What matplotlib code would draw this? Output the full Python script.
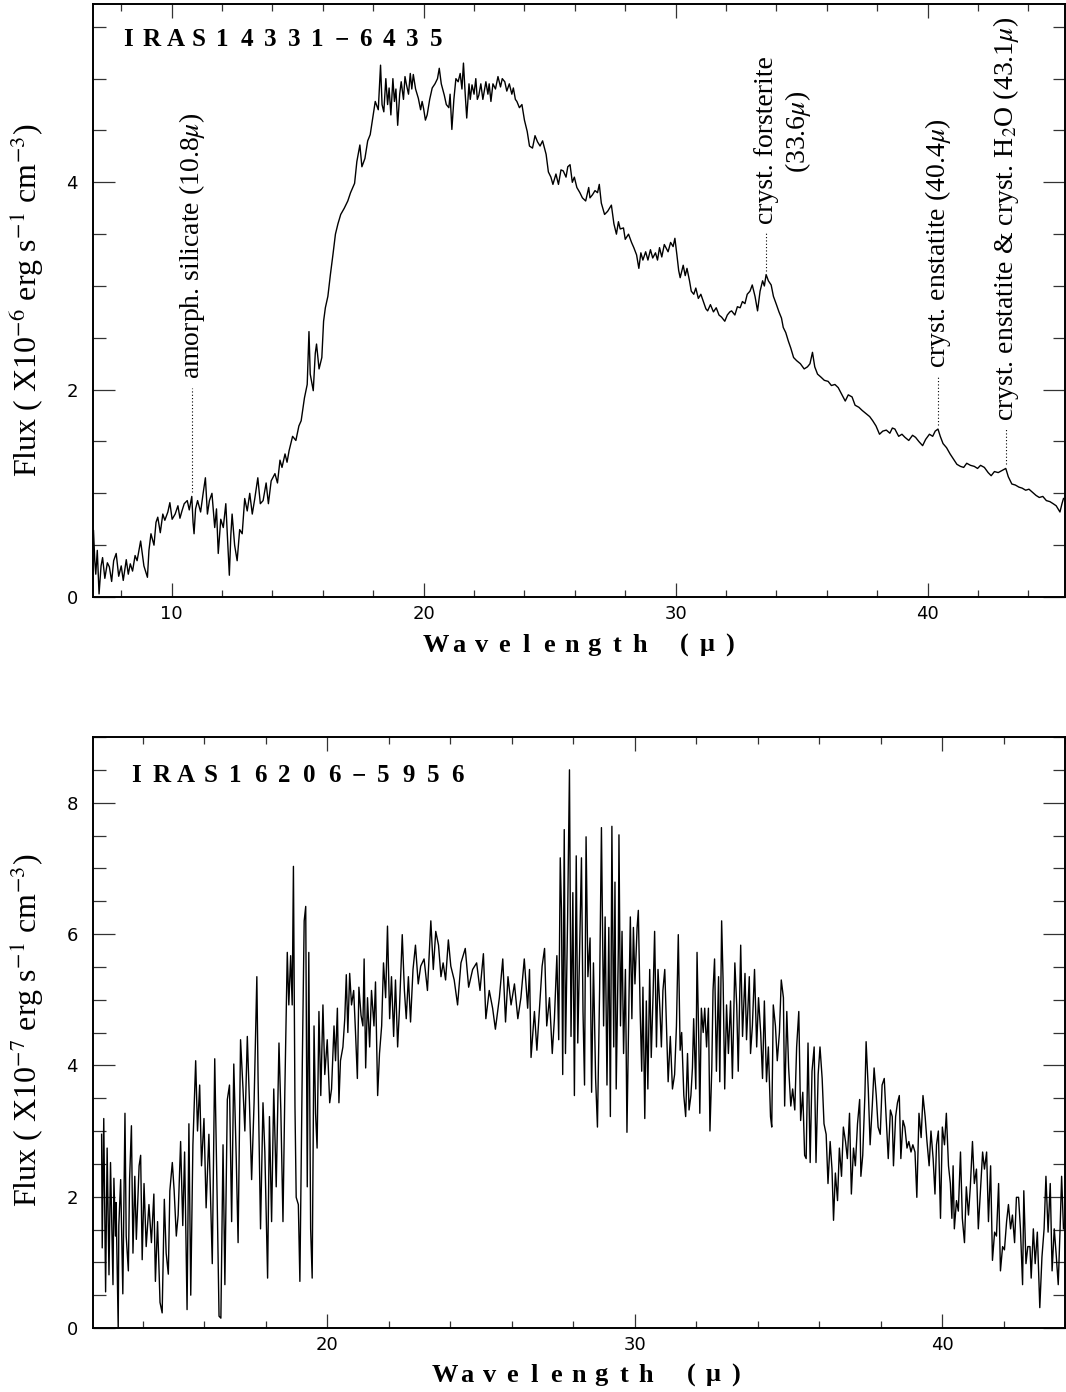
"""Two ISO-SWS style spectra (IRAS14331-6435 and IRAS16206-5956), PGPLOT look."""

import matplotlib
matplotlib.use("Agg")
import matplotlib.pyplot as plt
import numpy as np
from matplotlib.ticker import MultipleLocator

plt.rcParams["mathtext.fontset"] = "stix"

SERIF = "Liberation Serif"
SANS = "DejaVu Sans"

# ---- IRAS14331-6435 (flux in 1e-6 erg s-1 cm-3) ----
wl_14331 = [
    6.90, 6.95, 6.99, 7.05, 7.12, 7.20, 7.26, 7.35, 7.45, 7.53, 7.62, 7.70, 7.80, 7.90, 8.00, 8.08,
    8.20, 8.28, 8.36, 8.45, 8.55, 8.63, 8.77, 8.90, 9.04, 9.10, 9.18, 9.30, 9.38, 9.45, 9.55, 9.65,
    9.73, 9.85, 9.93, 10.02, 10.14, 10.25, 10.33, 10.41, 10.50, 10.62, 10.70, 10.80, 10.85, 10.89,
    10.95, 11.03, 11.15, 11.25, 11.34, 11.42, 11.50, 11.60, 11.71, 11.78, 11.85, 11.95, 12.05, 12.15,
    12.22, 12.29, 12.35, 12.40, 12.50, 12.60, 12.70, 12.80, 12.90, 13.00, 13.10, 13.20, 13.30, 13.42,
    13.52, 13.63, 13.75, 13.84, 13.95, 14.10, 14.20, 14.30, 14.38, 14.50, 14.58, 14.66, 14.80, 14.93,
    15.05, 15.14, 15.27, 15.38, 15.45, 15.50, 15.62, 15.70, 15.75, 15.85, 15.96, 16.03, 16.10, 16.20,
    16.30, 16.40, 16.50, 16.60, 16.71, 16.85, 16.99, 17.10, 17.26, 17.35, 17.47, 17.55, 17.67, 17.78,
    17.88, 18.00, 18.08, 18.20, 18.29, 18.35, 18.42, 18.50, 18.57, 18.63, 18.70, 18.78, 18.84, 18.90,
    18.97, 19.05, 19.11, 19.20, 19.26, 19.32, 19.40, 19.47, 19.53, 19.59, 19.68, 19.79, 19.88, 19.94,
    20.00, 20.07, 20.14, 20.24, 20.34, 20.45, 20.55, 20.62, 20.70, 20.82, 20.90, 21.00, 21.05, 21.12,
    21.20, 21.28, 21.37, 21.45, 21.52, 21.58, 21.65, 21.71, 21.80, 21.85, 21.92, 22.00, 22.07, 22.13,
    22.19, 22.27, 22.35, 22.47, 22.55, 22.60, 22.67, 22.75, 22.85, 22.95, 23.05, 23.12, 23.22, 23.30,
    23.40, 23.50, 23.56, 23.64, 23.70, 23.80, 23.90, 24.00, 24.11, 24.20, 24.32, 24.42, 24.52, 24.62,
    24.72, 24.86, 24.95, 25.05, 25.13, 25.25, 25.35, 25.45, 25.54, 25.65, 25.72, 25.81, 25.90, 25.98,
    26.08, 26.20, 26.30, 26.43, 26.55, 26.60, 26.70, 26.80, 26.90, 26.97, 27.05, 27.18, 27.30, 27.45,
    27.55, 27.65, 27.73, 27.80, 27.93, 28.00, 28.13, 28.25, 28.34, 28.45, 28.54, 28.62, 28.70, 28.81,
    28.90, 29.00, 29.09, 29.20, 29.28, 29.36, 29.45, 29.55, 29.70, 29.80, 29.90, 29.97, 30.05, 30.12,
    30.18, 30.30, 30.38, 30.45, 30.55, 30.62, 30.72, 30.80, 30.90, 31.00, 31.10, 31.20, 31.27, 31.38,
    31.50, 31.61, 31.72, 31.82, 31.95, 32.05, 32.15, 32.22, 32.35, 32.45, 32.56, 32.65, 32.75, 32.84,
    32.95, 33.04, 33.15, 33.25, 33.35, 33.45, 33.52, 33.59, 33.68, 33.79, 33.88, 34.00, 34.10, 34.20,
    34.27, 34.37, 34.47, 34.57, 34.68, 34.80, 34.95, 35.10, 35.23, 35.33, 35.43, 35.52, 35.63, 35.77,
    35.90, 36.05, 36.18, 36.32, 36.45, 36.60, 36.73, 36.85, 37.00, 37.12, 37.27, 37.40, 37.55, 37.70,
    37.82, 37.95, 38.09, 38.22, 38.36, 38.50, 38.60, 38.70, 38.85, 38.98, 39.10, 39.25, 39.40, 39.52,
    39.65, 39.80, 39.92, 40.07, 40.20, 40.30, 40.41, 40.50, 40.61, 40.75, 40.89, 41.00, 41.16, 41.30,
    41.43, 41.55, 41.70, 41.85, 41.98, 42.10, 42.25, 42.40, 42.52, 42.65, 42.80, 42.95, 43.10, 43.20,
    43.34, 43.48, 43.62, 43.75, 43.89, 44.02, 44.16, 44.30, 44.43, 44.57, 44.71, 44.85, 44.98, 45.10,
    45.25, 45.33, 45.39,
]
flux_14331 = [
    0.64, 0.35, 0.22, 0.45, 0.03, 0.30, 0.38, 0.18, 0.33, 0.29, 0.15, 0.35, 0.42, 0.20, 0.30, 0.16,
    0.36, 0.22, 0.32, 0.25, 0.40, 0.35, 0.54, 0.30, 0.19, 0.45, 0.61, 0.50, 0.72, 0.77, 0.62, 0.80,
    0.74, 0.82, 0.91, 0.75, 0.80, 0.88, 0.76, 0.83, 0.90, 0.93, 0.84, 0.97, 0.72, 0.61,
    0.85, 0.93, 0.82, 1.00, 1.15, 0.80, 0.93, 1.00, 0.67, 0.85, 0.42, 0.75, 0.67, 0.90,
    0.55, 0.21, 0.60, 0.80, 0.50, 0.35, 0.65, 0.61, 0.95, 0.83, 1.00, 0.80, 0.95, 1.15,
    0.90, 0.93, 1.10, 0.90, 1.12, 1.19, 1.10, 1.32, 1.25, 1.38, 1.30, 1.41, 1.55, 1.51,
    1.65, 1.70, 1.92, 2.05, 2.56, 2.15, 1.99, 2.35, 2.44, 2.20, 2.31, 2.66, 2.79, 2.90,
    3.11, 3.30, 3.50, 3.60, 3.69, 3.75, 3.82, 3.90, 3.99, 4.20, 4.36, 4.15, 4.23, 4.40,
    4.46, 4.65, 4.78, 4.70, 5.13, 4.75, 4.68, 5.00, 4.75, 4.91, 4.65, 5.00, 4.78, 4.90,
    4.55, 4.85, 4.97, 4.80, 5.02, 4.94, 4.85, 5.05, 4.90, 5.04, 4.90, 4.81, 4.70, 4.78,
    4.71, 4.60, 4.65, 4.80, 4.91, 4.95, 5.00, 5.10, 4.95, 4.84, 4.75, 4.72, 4.85, 4.51,
    4.80, 5.00, 4.97, 5.05, 4.90, 5.15, 4.85, 4.62, 4.95, 4.80, 4.94, 4.85, 5.00, 4.80,
    4.84, 4.95, 4.80, 4.97, 4.85, 4.95, 4.78, 4.95, 4.90, 5.02, 4.92, 5.00, 4.97, 4.88,
    4.95, 4.85, 4.91, 4.80, 4.78, 4.72, 4.75, 4.60, 4.49, 4.35, 4.33, 4.45, 4.39, 4.35,
    4.40, 4.27, 4.10, 4.05, 3.98, 4.08, 3.98, 4.12, 4.11, 4.05, 4.15, 4.17, 4.00, 4.05,
    3.95, 3.90, 3.85, 3.82, 3.95, 3.85, 3.88, 3.92, 3.90, 3.98, 3.80, 3.69, 3.72, 3.78,
    3.60, 3.50, 3.62, 3.55, 3.56, 3.45, 3.50, 3.42, 3.37, 3.30, 3.17, 3.32, 3.25, 3.33,
    3.25, 3.35, 3.27, 3.32, 3.25, 3.37, 3.28, 3.40, 3.33, 3.42, 3.38, 3.46, 3.30, 3.15,
    3.08, 3.20, 3.10, 3.17, 3.05, 2.95, 2.92, 2.98, 2.88, 2.92, 2.85, 2.78, 2.76, 2.82,
    2.75, 2.79, 2.72, 2.70, 2.66, 2.72, 2.75, 2.76, 2.72, 2.80, 2.79, 2.85, 2.83, 2.92,
    2.95, 3.01, 2.90, 2.76, 2.95, 3.05, 3.00, 3.11, 3.05, 3.01, 2.90, 2.82, 2.75, 2.69,
    2.60, 2.55, 2.47, 2.40, 2.31, 2.28, 2.25, 2.20, 2.22, 2.25, 2.36, 2.22, 2.15, 2.12,
    2.09, 2.08, 2.04, 2.05, 2.02, 1.95, 1.89, 1.95, 1.93, 1.85, 1.83, 1.80, 1.77, 1.74,
    1.70, 1.65, 1.57, 1.60, 1.61, 1.58, 1.63, 1.62, 1.55, 1.57, 1.54, 1.51, 1.56, 1.54,
    1.50, 1.46, 1.52, 1.57, 1.55, 1.60, 1.62, 1.55, 1.48, 1.44, 1.38, 1.34, 1.28, 1.26,
    1.25, 1.29, 1.27, 1.26, 1.24, 1.27, 1.25, 1.20, 1.17, 1.21, 1.20, 1.22, 1.24, 1.16,
    1.09, 1.08, 1.06, 1.05, 1.03, 1.04, 1.01, 0.98, 0.96, 0.97, 0.93, 0.92, 0.90, 0.88,
    0.82, 0.90, 0.95,
]

# ---- IRAS16206-5956 (flux in 1e-7 erg s-1 cm-3) ----
wl_16206 = [
    12.66, 12.68, 12.73, 12.79, 12.84, 12.90, 12.95, 13.03, 13.06, 13.11, 13.13, 13.20, 13.22, 13.28,
    13.35, 13.42, 13.46, 13.53, 13.57, 13.63, 13.68, 13.74, 13.79, 13.88, 13.93, 13.98, 14.04, 14.11,
    14.20, 14.28, 14.36, 14.41, 14.48, 14.56, 14.63, 14.70, 14.76, 14.83, 14.88, 14.96, 15.02, 15.09,
    15.15, 15.23, 15.30, 15.36, 15.44, 15.50, 15.56, 15.63, 15.72, 15.78, 15.85, 15.91, 15.99, 16.06,
    16.15, 16.26, 16.34, 16.42, 16.48, 16.54, 16.61, 16.67, 16.75, 16.82, 16.89, 16.96, 17.04, 17.10,
    17.18, 17.26, 17.32, 17.40, 17.47, 17.54, 17.62, 17.67, 17.71, 17.75, 17.83, 17.91, 17.97, 18.06,
    18.12, 18.19, 18.26, 18.34, 18.43, 18.49, 18.56, 18.62, 18.70, 18.75, 18.81, 18.86, 18.90, 18.95,
    18.99, 19.06, 19.11, 19.19, 19.25, 19.30, 19.35, 19.40, 19.46, 19.51, 19.57, 19.62, 19.67, 19.73,
    19.79, 19.86, 19.92, 20.00, 20.08, 20.14, 20.22, 20.27, 20.33, 20.38, 20.43, 20.51, 20.57, 20.62,
    20.67, 20.73, 20.79, 20.86, 20.92, 20.98, 21.03, 21.10, 21.16, 21.20, 21.25, 21.31, 21.38, 21.44,
    21.52, 21.57, 21.64, 21.70, 21.77, 21.83, 21.90, 21.96, 22.03, 22.09, 22.16, 22.22, 22.29, 22.35,
    22.44, 22.51, 22.57, 22.64, 22.71, 22.79, 22.87, 22.96, 23.04, 23.15, 23.26, 23.37, 23.45, 23.53,
    23.62, 23.70, 23.77, 23.85, 23.94, 24.02, 24.13, 24.24, 24.35, 24.49, 24.60, 24.73, 24.86, 24.97,
    25.08, 25.16, 25.27, 25.38, 25.47, 25.60, 25.71, 25.80, 25.88, 25.98, 26.09, 26.20, 26.30, 26.41,
    26.52, 26.58, 26.63, 26.74, 26.82, 26.90, 26.99, 27.07, 27.14, 27.23, 27.32, 27.39, 27.47, 27.53,
    27.58, 27.62, 27.66, 27.71, 27.75, 27.82, 27.88, 27.93, 27.99, 28.04, 28.10, 28.15, 28.21, 28.27,
    28.32, 28.37, 28.42, 28.48, 28.55, 28.60, 28.66, 28.73, 28.79, 28.86, 28.92, 28.99, 29.04, 29.10,
    29.16, 29.21, 29.26, 29.32, 29.36, 29.40, 29.47, 29.49, 29.54, 29.59, 29.64, 29.70, 29.75, 29.82,
    29.86, 29.91, 29.96, 30.01, 30.08, 30.12, 30.18, 30.23, 30.27, 30.33, 30.38, 30.43, 30.49, 30.54,
    30.60, 30.65, 30.71, 30.76, 30.82, 30.87, 30.92, 30.98, 31.03, 31.09, 31.16, 31.23, 31.30, 31.36,
    31.42, 31.48, 31.53, 31.60, 31.66, 31.72, 31.77, 31.83, 31.88, 31.92, 31.99, 32.03, 32.09, 32.12,
    32.17, 32.23, 32.28, 32.34, 32.40, 32.45, 32.51, 32.55, 32.60, 32.66, 32.73, 32.77, 32.83, 32.88,
    32.93, 32.99, 33.05, 33.12, 33.18, 33.26, 33.32, 33.37, 33.45, 33.51, 33.59, 33.64, 33.73, 33.77,
    33.83, 33.90, 33.97, 34.03, 34.10, 34.16, 34.22, 34.29, 34.35, 34.42, 34.46, 34.51, 34.58, 34.64,
    34.71, 34.77, 34.84, 34.88, 34.95, 35.01, 35.08, 35.14, 35.21, 35.27, 35.34, 35.40, 35.47, 35.53,
    35.58, 35.64, 35.71, 35.77, 35.84, 35.90, 35.97, 36.03, 36.10, 36.16, 36.23, 36.29, 36.36, 36.42,
    36.47, 36.53, 36.60, 36.66, 36.73, 36.79, 36.86, 36.92, 36.99, 37.05, 37.12, 37.18, 37.25, 37.32,
    37.36, 37.42, 37.49, 37.53, 37.60, 37.66, 37.73, 37.79, 37.86, 37.92, 37.99, 38.05, 38.12, 38.18,
    38.25, 38.32, 38.38, 38.42, 38.49, 38.55, 38.61, 38.66, 38.73, 38.79, 38.86, 38.92, 38.99, 39.05,
    39.12, 39.18, 39.25, 39.32, 39.38, 39.45, 39.51, 39.58, 39.64, 39.71, 39.77, 39.82, 39.88, 39.95,
    40.01, 40.08, 40.14, 40.21, 40.27, 40.32, 40.36, 40.40, 40.47, 40.53, 40.60, 40.66, 40.73, 40.79,
    40.86, 40.92, 40.99, 41.05, 41.12, 41.18, 41.25, 41.32, 41.38, 41.45, 41.51, 41.58, 41.64, 41.71,
    41.77, 41.84, 41.90, 41.97, 42.03, 42.10, 42.16, 42.23, 42.29, 42.36, 42.42, 42.49, 42.55, 42.62,
    42.66, 42.73, 42.79, 42.86, 42.90, 42.97, 43.03, 43.10, 43.18, 43.25, 43.32, 43.38, 43.45, 43.52,
    43.58, 43.65, 43.71, 43.78, 43.84, 43.89, 43.95,
]
flux_16206 = [
    2.95, 1.22, 3.19, 0.55, 2.74, 0.81, 2.52, 0.66, 2.28, 1.40, 1.91, 0.00, 1.56, 2.26,
    0.52, 3.27, 1.40, 0.87, 2.26, 3.08, 1.14, 2.31, 1.35, 2.47, 2.63, 1.04, 2.20, 1.24,
    1.88, 1.30, 2.04, 0.71, 1.62, 0.39, 0.23, 1.96, 1.14, 0.82, 2.09, 2.52, 2.09, 1.40,
    1.72, 2.84, 1.56, 2.68, 0.28, 3.11, 0.50, 2.79, 4.07, 3.00, 3.70, 2.47, 3.19, 1.83,
    2.95, 0.98, 4.10, 1.94, 0.18, 0.15, 2.79, 0.66, 3.48, 3.70, 1.62, 4.02, 2.58, 1.30,
    4.39, 3.64, 3.00, 4.44, 3.43, 2.26, 3.43, 4.50, 5.35, 3.80, 1.51, 3.43, 2.68, 0.76,
    3.22, 1.62, 3.64, 2.15, 4.34, 3.32, 1.62, 3.59, 5.72, 4.92, 5.67, 4.92, 7.03, 3.38,
    1.99, 1.88, 0.71, 4.07, 6.20, 6.42, 2.15, 5.72, 1.51, 0.76, 4.60, 3.27, 2.74, 4.82,
    3.54, 4.92, 3.86, 4.39, 3.43, 3.64, 4.60, 4.07, 4.87, 3.43, 4.07, 4.28, 4.71, 5.38,
    4.50, 5.40, 4.92, 5.14, 4.50, 3.80, 5.19, 4.76, 4.60, 5.62, 3.96, 5.03, 4.28, 5.14,
    4.60, 5.27, 3.54, 4.18, 4.60, 5.56, 5.03, 6.12, 4.71, 5.35, 4.44, 5.30, 4.28, 4.87,
    5.99, 5.14, 4.71, 5.35, 4.66, 5.46, 5.83, 5.24, 5.51, 5.62, 5.14, 6.20, 5.46, 6.04,
    5.83, 5.35, 5.56, 5.30, 5.91, 5.51, 5.30, 4.92, 5.56, 5.78, 5.19, 5.46, 5.56, 5.14,
    5.70, 4.71, 5.14, 4.87, 4.55, 5.03, 5.62, 4.66, 5.35, 4.92, 5.24, 4.71, 5.03, 5.62,
    4.87, 5.46, 4.12, 4.82, 4.23, 4.82, 5.51, 5.78, 4.60, 5.03, 4.18, 4.71, 5.67, 4.39,
    7.16, 6.36, 3.86, 7.59, 4.18, 6.26, 8.50, 4.44, 6.63, 3.54, 7.19, 4.34, 5.78, 7.16,
    4.82, 3.70, 7.48, 5.35, 5.94, 3.59, 5.56, 3.80, 3.06, 5.14, 7.62, 4.60, 6.26, 3.70,
    6.10, 3.22, 7.64, 4.28, 6.79, 3.64, 5.78, 7.51, 4.60, 6.04, 4.18, 5.46, 2.98, 5.14,
    6.26, 4.71, 6.10, 5.24, 6.10, 6.36, 4.82, 3.91, 5.19, 3.19, 4.98, 3.64, 5.46, 4.12,
    5.08, 6.04, 4.28, 5.46, 4.87, 4.28, 5.14, 5.46, 4.66, 3.75, 4.44, 3.64, 3.86, 4.60,
    5.99, 4.23, 4.50, 3.54, 3.22, 4.18, 3.32, 3.54, 3.96, 4.71, 3.64, 5.72, 4.28, 3.27,
    4.87, 4.50, 4.87, 4.28, 4.87, 3.00, 3.96, 5.14, 5.62, 3.91, 5.35, 3.75, 6.20, 5.24,
    3.64, 4.92, 4.18, 4.98, 3.80, 5.56, 4.92, 3.91, 5.83, 4.44, 5.40, 4.39, 5.35, 4.18,
    4.60, 5.46, 4.28, 5.03, 4.50, 3.80, 4.98, 3.75, 4.28, 3.22, 3.06, 4.92, 4.60, 4.07,
    4.50, 5.30, 5.03, 3.38, 4.82, 3.96, 3.38, 3.64, 3.32, 4.28, 4.82, 3.16, 3.59, 2.63,
    2.58, 4.34, 2.52, 3.91, 4.28, 2.52, 3.86, 4.28, 3.80, 3.11, 2.95, 2.20, 2.84, 2.42,
    1.64, 2.36, 1.94, 2.74, 2.31, 3.06, 2.84, 2.58, 3.27, 2.04, 2.74, 2.47, 3.11, 3.48,
    2.31, 2.63, 3.54, 4.36, 3.64, 2.79, 3.38, 3.96, 3.54, 3.06, 2.95, 3.70, 3.80, 3.22,
    2.58, 3.32, 3.22, 2.47, 3.22, 3.43, 3.54, 2.58, 3.16, 3.06, 2.74, 2.84, 2.68, 2.79,
    2.68, 1.99, 3.27, 2.90, 3.54, 3.22, 2.84, 2.47, 3.00, 2.58, 2.04, 2.79, 3.00, 1.67,
    3.06, 2.79, 3.27, 2.47, 2.20, 1.67, 2.47, 1.51, 1.94, 1.78, 2.68, 1.67, 1.30, 2.15,
    1.72, 2.15, 2.84, 2.20, 2.42, 1.51, 2.09, 2.68, 2.42, 2.68, 1.62, 2.47, 1.03, 1.46,
    1.40, 2.20, 0.87, 1.24, 1.19, 1.62, 1.88, 1.51, 1.72, 1.30, 1.99, 1.99, 1.51, 0.66,
    2.09, 0.98, 1.24, 1.24, 0.76, 1.51, 0.98, 1.46, 0.31, 1.08, 1.51, 2.31, 1.46, 2.20,
    0.87, 1.51, 1.14, 0.66, 1.51, 2.31, 1.51,
]

# feature markers on the upper panel: wavelength, text start (flux units), label
feature_wl = [10.8, 33.6, 40.4, 43.1]
feature_text_y = [2.10, 3.60, 2.21, 1.70]
feature_labels = [
    r"amorph. silicate (10.8$\mu$)",
    "cryst. forsterite",
    r"cryst. enstatite (40.4$\mu$)",
    r"cryst. enstatite & cryst. H$_2$O (43.1$\mu$)",
]

W, H = 1066, 1392
fig = plt.figure(figsize=(W / 100, H / 100), dpi=100)


def px(x, y):
    return x / W, 1 - y / H


def spaced_text(xc, y, s, step, **kw):
    """PGPLOT-like tracked text: one glyph every `step` pixels, centred on xc."""
    n = len(s)
    for i, ch in enumerate(s):
        if ch == " ":
            continue
        x = xc + (i - (n - 1) / 2) * step
        fig.text(*px(x, y), ch, ha="center", va="center", **kw)


def style_axes(ax, xlim, ylim, ymajor):
    ax.set_xlim(*xlim)
    ax.set_ylim(*ylim)
    ax.xaxis.set_major_locator(MultipleLocator(10))
    ax.xaxis.set_minor_locator(MultipleLocator(2))
    ax.yaxis.set_major_locator(MultipleLocator(ymajor))
    ax.yaxis.set_minor_locator(MultipleLocator(0.5))
    ax.tick_params(axis="both", which="both", direction="in", top=True, right=True,
                   colors="#333333", labelcolor="black")
    ax.tick_params(axis="x", which="major", length=10, width=0.9, pad=6, labelsize=13)
    ax.tick_params(axis="x", which="minor", length=5, width=0.9)
    ax.tick_params(axis="y", which="major", length=16, width=0.9, pad=11, labelsize=13)
    ax.tick_params(axis="y", which="minor", length=9, width=0.9)
    for lab in ax.get_xticklabels() + ax.get_yticklabels():
        lab.set_family(SANS)
    for sp in ax.spines.values():
        sp.set_linewidth(1.4)


# ---------------- upper panel ----------------
ax1 = fig.add_axes([93 / W, 1 - 597 / H, 972 / W, 593 / H])
ax1.plot(wl_14331, flux_14331, color="black", lw=1.0)
style_axes(ax1, (6.88, 45.45), (0, 5.72), 2)

for wl, ty, lab in zip(feature_wl, feature_text_y, feature_labels):
    y0 = float(np.interp(wl, wl_14331, flux_14331)) + 0.04
    ax1.plot([wl, wl], [y0, ty - 0.08], ls=(0, (1, 2)), color="black", lw=0.8)
    ax1.text(wl, ty, lab, rotation=90, ha="center", va="bottom",
             family=SERIF, fontsize=20)
ax1.text(34.85, 4.49, r"(33.6$\mu$)", rotation=90, ha="center", va="center",
         family=SERIF, fontsize=20)

spaced_text(282, 40, "IRAS14331−6435", 23.7, family=SERIF, weight="bold", fontsize=18)
spaced_text(583, 645, "Wavelength (μ)", 22.6, family=SERIF, weight="bold", fontsize=19)
fig.text(*px(27, 300), r"Flux ( X10$^{-6}$ erg s$^{-1}$ cm$^{-3}$)", rotation=90,
         ha="center", va="center", family=SERIF, fontsize=23)

# ---------------- lower panel ----------------
ax2 = fig.add_axes([93 / W, 1 - 1328 / H, 972 / W, 591 / H])
ax2.plot(wl_16206, flux_16206, color="black", lw=1.0)
style_axes(ax2, (12.38, 44.0), (0, 9.0), 2)

spaced_text(297, 776, "IRAS16206−5956", 24.7, family=SERIF, weight="bold", fontsize=18)
spaced_text(590, 1375, "Wavelength (μ)", 22.4, family=SERIF, weight="bold", fontsize=19)
fig.text(*px(27, 1030), r"Flux ( X10$^{-7}$ erg s$^{-1}$ cm$^{-3}$)", rotation=90,
         ha="center", va="center", family=SERIF, fontsize=23)

fig.savefig("out.png", dpi=100)
